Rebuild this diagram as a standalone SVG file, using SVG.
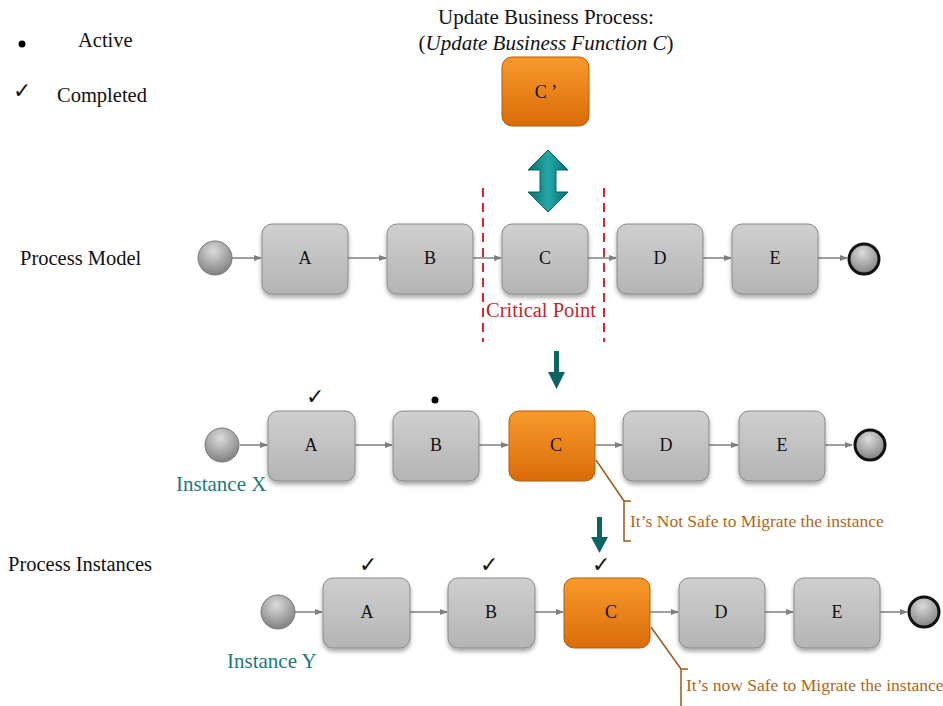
<svg xmlns="http://www.w3.org/2000/svg" width="943" height="706" viewBox="0 0 943 706">
<defs>
<linearGradient id="gGray" x1="0" y1="0" x2="0" y2="1"><stop offset="0" stop-color="#cfcfcf"/><stop offset="1" stop-color="#b4b4b4"/></linearGradient>
<linearGradient id="gOrange" x1="0" y1="0" x2="0" y2="1"><stop offset="0" stop-color="#f99a2c"/><stop offset="1" stop-color="#d96c08"/></linearGradient>
<radialGradient id="gCirc" cx="0.45" cy="0.3" r="0.75"><stop offset="0" stop-color="#dcdcdc"/><stop offset="1" stop-color="#7a7a7a"/></radialGradient>
<linearGradient id="gTeal" x1="0" y1="0" x2="1" y2="0"><stop offset="0" stop-color="#0a6f6f"/><stop offset="0.5" stop-color="#22a7a7"/><stop offset="1" stop-color="#0a6f6f"/></linearGradient>
<filter id="sh" x="-20%" y="-20%" width="140%" height="150%"><feDropShadow dx="0" dy="3" stdDeviation="2" flood-color="#000" flood-opacity="0.35"/></filter>
<marker id="ah" markerWidth="8" markerHeight="8" refX="7" refY="4" orient="auto" markerUnits="userSpaceOnUse"><path d="M0,1 L8,4 L0,7 Z" fill="#7f7f7f"/></marker>
<style>
text{font-family:"Liberation Serif","Times New Roman",serif;}
.box{fill:url(#gGray);stroke:#8a8a8a;stroke-width:1;filter:url(#sh);}
.obox{fill:url(#gOrange);stroke:#b85a05;stroke-width:1;}
.lbl{font-size:18px;fill:#111;text-anchor:middle;}
.start{fill:url(#gCirc);stroke:#777;stroke-width:1;}
.end{fill:url(#gCirc);stroke:#111;stroke-width:3;}
.flow{stroke:#7f7f7f;stroke-width:1.5;fill:none;marker-end:url(#ah);}
.big{font-size:20.5px;fill:#111;}
.teal{font-size:21px;fill:#1a7a78;}
.note{font-size:17.5px;fill:#b0661c;}
.bracket{stroke:#9a5a1a;stroke-width:1.5;fill:none;}
.dash{stroke:#d9262f;stroke-width:2;stroke-dasharray:9,6;}
.tarrow{fill:#0b6464;}
.chk{font-family:"DejaVu Sans",sans-serif;font-size:22px;fill:#111;}
</style>
</defs>

<g id="legend">
<circle cx="22" cy="44" r="3.5" fill="#000"/>
<text x="78" y="47" class="big">Active</text>
<text x="13" y="98" class="chk">✓</text>
<text x="57" y="102" class="big">Completed</text>
</g>

<g id="update-title">
<text x="546" y="24" class="big" text-anchor="middle" style="font-size:21px">Update Business Process:</text>
<text x="546" y="50" class="big" text-anchor="middle" style="font-size:21px">(<tspan font-style="italic">Update Business Function C</tspan>)</text>
</g>

<g id="node-Cprime">
<rect x="502" y="57" width="87" height="69" rx="10" class="obox"/>
<text x="546" y="98" class="lbl">C ’</text>
</g>

<g id="double-arrow">
<path d="M548,150 L568,170 L556,170 L556,192 L568,192 L548,212 L528,192 L540,192 L540,170 L528,170 Z" fill="url(#gTeal)" stroke="#0b5f5f" stroke-width="1"/>
</g>

<text x="20" y="265" class="big">Process Model</text>
<text x="8" y="571" class="big">Process Instances</text>

<g id="critical-point">
<line x1="483" y1="188" x2="483" y2="342" class="dash"/>
<line x1="604" y1="188" x2="604" y2="342" class="dash"/>
<text x="541" y="317" text-anchor="middle" style="font-size:20.5px;fill:#c0262d">Critical Point</text>
</g>

<g id="connectors">
<line x1="232" y1="258" x2="261" y2="258" class="flow"/>
<line x1="348" y1="258" x2="386" y2="258" class="flow"/>
<line x1="473" y1="258" x2="501" y2="258" class="flow"/>
<line x1="588" y1="258" x2="616" y2="258" class="flow"/>
<line x1="703" y1="258" x2="731" y2="258" class="flow"/>
<line x1="818" y1="258" x2="847" y2="258" class="flow"/>
<line x1="240" y1="445" x2="267" y2="445" class="flow"/>
<line x1="355" y1="445" x2="392" y2="445" class="flow"/>
<line x1="479" y1="445" x2="508" y2="445" class="flow"/>
<line x1="595" y1="445" x2="622" y2="445" class="flow"/>
<line x1="709" y1="445" x2="738" y2="445" class="flow"/>
<line x1="825" y1="445" x2="852" y2="445" class="flow"/>
<line x1="295" y1="612" x2="322" y2="612" class="flow"/>
<line x1="410" y1="612" x2="447" y2="612" class="flow"/>
<line x1="535" y1="612" x2="563" y2="612" class="flow"/>
<line x1="650" y1="612" x2="678" y2="612" class="flow"/>
<line x1="765" y1="612" x2="793" y2="612" class="flow"/>
<line x1="880" y1="612" x2="907" y2="612" class="flow"/>
</g>

<g id="pm-start"><circle cx="215" cy="258" r="17" class="start"/></g>
<g id="pm-A"><rect x="262" y="224" width="86" height="70" rx="10" class="box"/><text x="305" y="264" class="lbl">A</text></g>
<g id="pm-B"><rect x="387" y="224" width="86" height="70" rx="10" class="box"/><text x="430" y="264" class="lbl">B</text></g>
<g id="pm-C"><rect x="502" y="224" width="86" height="70" rx="10" class="box"/><text x="545" y="264" class="lbl">C</text></g>
<g id="pm-D"><rect x="617" y="224" width="86" height="70" rx="10" class="box"/><text x="660" y="264" class="lbl">D</text></g>
<g id="pm-E"><rect x="732" y="224" width="86" height="70" rx="10" class="box"/><text x="775" y="264" class="lbl">E</text></g>
<g id="pm-end"><circle cx="864" cy="259" r="15" class="end"/></g>

<g id="down-arrow-1"><path d="M554,351 L559,351 L559,372 L565,372 L556.5,389 L548,372 L554,372 Z" class="tarrow"/></g>

<g id="x-start"><circle cx="222" cy="445" r="17" class="start"/></g>
<g id="x-A"><rect x="268" y="411" width="87" height="70" rx="10" class="box"/><text x="311" y="451" class="lbl">A</text>
<text x="306" y="404" class="chk">✓</text></g>
<g id="x-B"><rect x="393" y="411" width="86" height="70" rx="10" class="box"/><text x="436" y="451" class="lbl">B</text>
<circle cx="435" cy="400" r="3.5" fill="#000"/></g>
<g id="x-C"><rect x="509" y="411" width="86" height="70" rx="10" class="obox"/><text x="556" y="451" class="lbl">C</text></g>
<g id="x-D"><rect x="623" y="411" width="86" height="70" rx="10" class="box"/><text x="666" y="451" class="lbl">D</text></g>
<g id="x-E"><rect x="739" y="411" width="86" height="70" rx="10" class="box"/><text x="782" y="451" class="lbl">E</text></g>
<g id="x-end"><circle cx="870" cy="445" r="15" class="end"/></g>
<text x="176" y="491" class="teal">Instance X</text>

<g id="note-x">
<line x1="596" y1="460" x2="624" y2="501" class="bracket"/>
<path d="M631,501 L624,501 L624,541 L631,541" class="bracket"/>
<text x="630" y="527" class="note">It’s Not Safe to Migrate the instance</text>
</g>

<g id="down-arrow-2"><path d="M597,517 L602,517 L602,537 L608,537 L599.5,553 L591,537 L597,537 Z" class="tarrow"/></g>

<g id="y-start"><circle cx="278" cy="612" r="17" class="start"/></g>
<g id="y-A"><rect x="323" y="578" width="87" height="70" rx="10" class="box"/><text x="367" y="618" class="lbl">A</text>
<text x="359" y="572" class="chk">✓</text></g>
<g id="y-B"><rect x="448" y="578" width="87" height="70" rx="10" class="box"/><text x="491" y="618" class="lbl">B</text>
<text x="480" y="572" class="chk">✓</text></g>
<g id="y-C"><rect x="564" y="578" width="86" height="70" rx="10" class="obox"/><text x="611" y="618" class="lbl">C</text>
<text x="592" y="572" class="chk">✓</text></g>
<g id="y-D"><rect x="679" y="578" width="86" height="70" rx="10" class="box"/><text x="721" y="618" class="lbl">D</text></g>
<g id="y-E"><rect x="794" y="578" width="86" height="70" rx="10" class="box"/><text x="837" y="618" class="lbl">E</text></g>
<g id="y-end"><circle cx="924" cy="612" r="15" class="end"/></g>
<text x="227" y="668" class="teal">Instance Y</text>

<g id="note-y">
<line x1="651" y1="627" x2="681" y2="669" class="bracket"/>
<path d="M688,669 L681,669 L681,707 L688,707" class="bracket"/>
<text x="686" y="691" class="note">It’s now Safe to Migrate the instance</text>
</g>
</svg>
